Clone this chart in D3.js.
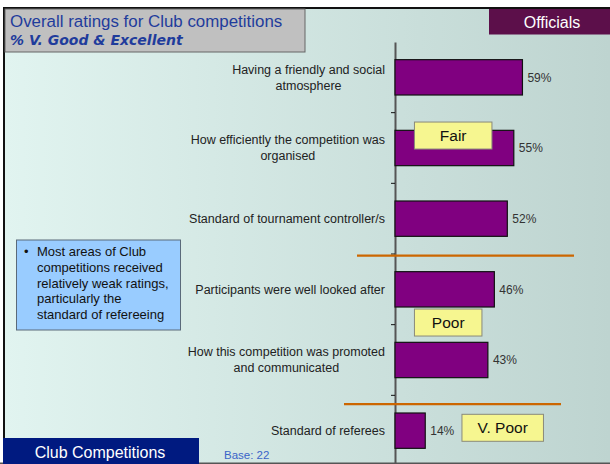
<!DOCTYPE html>
<html>
<head>
<meta charset="utf-8">
<script src="https://cdn.jsdelivr.net/npm/d3@7"></script>
<style>
  body { margin: 0; background: #fff; }
  svg { display: block; }
</style>
</head>
<body>
<svg id="chart" width="610" height="464"></svg>
<script>
// ---- data ----
const categories = [
  "Having a friendly and social atmosphere",
  "How efficiently the competition was organised",
  "Standard of tournament controller/s",
  "Participants were well looked after",
  "How this competition was promoted and communicated",
  "Standard of referees"
];
const categoryLines = [
  ["Having a friendly and social", "atmosphere"],
  ["How efficiently the competition was", "organised"],
  ["Standard of tournament controller/s"],
  ["Participants were well looked after"],
  ["How this competition was promoted", "and communicated"],
  ["Standard of referees"]
];
const values = [59, 55, 52, 46, 43, 14];
const ratingLabels = ["Fair", "Poor", "V. Poor"];
const noteLines = [
  "Most areas of Club",
  "competitions received",
  "relatively weak ratings,",
  "particularly the",
  "standard of refereeing"
];
const titleText = "Overall ratings for Club competitions";
const subtitleText = "% V. Good & Excellent";
const sectionText = "Officials";
const footerText = "Club Competitions";
const baseText = "Base: 22";

// ---- layout ----
const W = 610, H = 464;
const svg = d3.select("#chart");

const x = d3.scaleLinear().domain([0, 100]).range([395, 611]);
const y = d3.scaleBand().domain(categories).range([42, 466])
  .paddingInner(0.5).paddingOuter(0.25);
const step = y.step();
const gap = (step - y.bandwidth()) / 2;   // space between a bar and its band edge

// background
const defs = svg.append("defs");
const grad = defs.append("linearGradient").attr("id", "bg")
  .attr("x1", "0%").attr("x2", "100%").attr("y1", "0%").attr("y2", "0%");
grad.append("stop").attr("offset", "0%").attr("stop-color", "#e1f4f0");
grad.append("stop").attr("offset", "100%").attr("stop-color", "#bed4d0");

svg.append("rect").attr("width", W).attr("height", H).attr("fill", "#fff");
svg.append("rect").attr("x", 4).attr("y", 8).attr("width", W - 4).attr("height", H - 8)
  .attr("fill", "url(#bg)");

// frame lines
svg.append("rect").attr("x", 3).attr("y", 7).attr("width", W - 3).attr("height", 2).attr("fill", "#111");
svg.append("rect").attr("x", 3).attr("y", 7).attr("width", 2).attr("height", 432).attr("fill", "#111");
svg.append("rect").attr("x", 0).attr("y", H - 1.5).attr("width", W).attr("height", 1.5).attr("fill", "#555");

// axis
const axis = d3.axisLeft(y).tickSize(0).tickFormat("");
const gAxis = svg.append("g").attr("transform", `translate(${x(0)},0)`).call(axis);
gAxis.select(".domain").attr("stroke", "#555").attr("stroke-width", 2);
// tick marks between categories
svg.append("g").selectAll("line").data(categories.slice(1)).join("line")
  .attr("x1", x(0) - 4).attr("x2", x(0))
  .attr("y1", c => y(c) - gap)
  .attr("y2", c => y(c) - gap)
  .attr("stroke", "#111").attr("stroke-width", 1);

// bars
svg.append("g").selectAll("rect").data(values).join("rect")
  .attr("x", x(0))
  .attr("y", (d, i) => y(categories[i]))
  .attr("width", d => x(d) - x(0))
  .attr("height", y.bandwidth())
  .attr("fill", "#800080")
  .attr("stroke", "#111").attr("stroke-width", 1.2);

// value labels
svg.append("g").selectAll("text").data(values).join("text")
  .attr("x", d => x(d) + 5)
  .attr("y", (d, i) => y(categories[i]) + y.bandwidth() / 2)
  .attr("dy", "0.35em")
  .attr("font-family", "'Liberation Sans', Arial, sans-serif")
  .attr("font-size", 12)
  .attr("fill", "#333")
  .text(d => d + "%");

// category labels: block right-aligned to the axis, lines centred in block
const labelFont = "'Liberation Sans', Arial, sans-serif";
const labelSize = 12.5;
const lineH = 16;
const gLab = svg.append("g");
categoryLines.forEach((lines, i) => {
  const cy = y(categories[i]) + y.bandwidth() / 2;
  const g = gLab.append("g");
  const texts = lines.map((t, k) => g.append("text")
    .attr("font-family", labelFont).attr("font-size", labelSize)
    .attr("fill", "#222").attr("text-anchor", "middle")
    .attr("y", cy + (k - (lines.length - 1) / 2) * lineH)
    .attr("dy", "0.35em")
    .text(t));
  const maxW = d3.max(texts, t => t.node().getComputedTextLength());
  const cx = x(0) - 10 - maxW / 2;
  texts.forEach(t => t.attr("x", cx));
});

// separator lines between rating groups
const sepLines = [
  { after: 2, dy: 1.7, x1: 357, x2: 574 },
  { after: 4, dy: 8.7, x1: 344, x2: 561 }
];
svg.append("g").selectAll("line").data(sepLines).join("line")
  .attr("x1", d => d.x1).attr("x2", d => d.x2)
  .attr("y1", d => y(categories[d.after + 1]) - gap + d.dy)
  .attr("y2", d => y(categories[d.after + 1]) - gap + d.dy)
  .attr("stroke", "#cc6600").attr("stroke-width", 2.2);

// rating boxes
const ratingPlace = [
  { cat: 1, dy: -8.3, x0: 9, w: 77.5 },
  { cat: 4, dy: -33.3, x0: 9, w: 67.5 },
  { cat: 5, dy: 1.3, x0: 31, w: 81.5 }
];
const gRate = svg.append("g");
ratingLabels.forEach((lab, i) => {
  const p = ratingPlace[i];
  const bx = x(p.x0), by = y(categories[p.cat]) + p.dy;
  gRate.append("rect").attr("x", bx).attr("y", by).attr("width", p.w).attr("height", 27)
    .attr("fill", "#f6f690").attr("stroke", "#8a8a7a").attr("stroke-width", 1);
  gRate.append("text").attr("x", bx + p.w / 2).attr("y", by + 13.5).attr("dy", "0.36em")
    .attr("text-anchor", "middle")
    .attr("font-family", labelFont).attr("font-size", 15.5).attr("fill", "#111")
    .text(lab);
});

// title box
svg.append("rect").attr("x", 5).attr("y", 9).attr("width", 300).attr("height", 43)
  .attr("fill", "#c0c0c0").attr("stroke", "#666").attr("stroke-width", 1);
svg.append("text").attr("x", 10).attr("y", 27)
  .attr("font-family", labelFont).attr("font-size", 16.9).attr("fill", "#1f3c9c")
  .text(titleText);
svg.append("text").attr("x", 10).attr("y", 45)
  .attr("font-family", "'DejaVu Sans', Verdana, sans-serif").attr("font-size", 14)
  .attr("font-weight", "bold").attr("font-style", "italic").attr("fill", "#1f3c9c")
  .text(subtitleText);

// section tag
svg.append("rect").attr("x", 489).attr("y", 9).attr("width", W - 489).attr("height", 25.5)
  .attr("fill", "#5c0f4a");
svg.append("text").attr("x", 552).attr("y", 28).attr("text-anchor", "middle")
  .attr("font-family", labelFont).attr("font-size", 16).attr("fill", "#fff")
  .text(sectionText);

// note box
svg.append("rect").attr("x", 16.5).attr("y", 240).attr("width", 164).attr("height", 90)
  .attr("fill", "#99ccff").attr("stroke", "#5a6a7a").attr("stroke-width", 1);
svg.append("text").attr("x", 24).attr("y", 256)
  .attr("font-family", labelFont).attr("font-size", 13).attr("fill", "#111").text("•");
svg.append("g").selectAll("text").data(noteLines).join("text")
  .attr("x", 37).attr("y", (d, i) => 256 + i * 15.8)
  .attr("font-family", labelFont).attr("font-size", 13).attr("fill", "#111")
  .text(d => d);

// footer
svg.append("rect").attr("x", 3).attr("y", 438).attr("width", 196).attr("height", 26)
  .attr("fill", "#001a80");
svg.append("text").attr("x", 100).attr("y", 458).attr("text-anchor", "middle")
  .attr("font-family", labelFont).attr("font-size", 16).attr("fill", "#fff")
  .text(footerText);
svg.append("text").attr("x", 224).attr("y", 459)
  .attr("font-family", labelFont).attr("font-size", 11.5).attr("fill", "#3a64c8")
  .text(baseText);
</script>
</body>
</html>
